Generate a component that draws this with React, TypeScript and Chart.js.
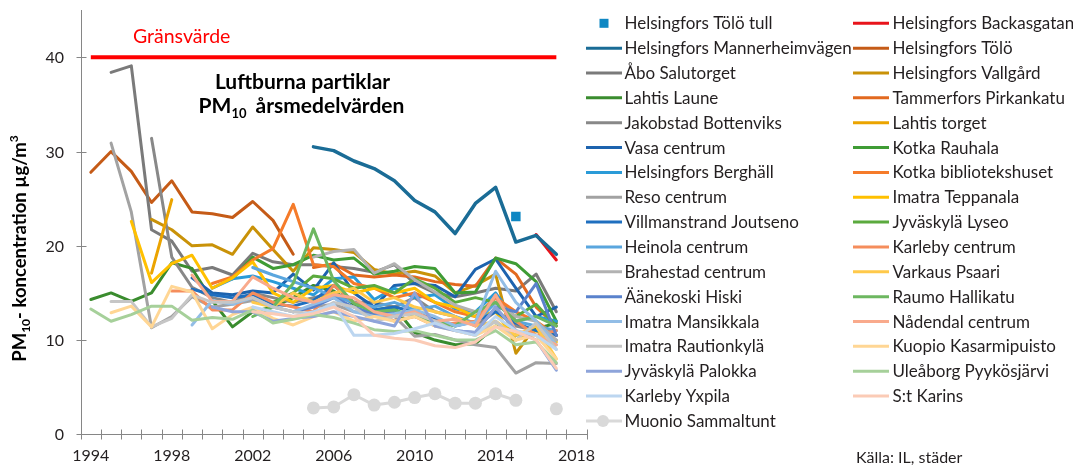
import React, { useEffect, useRef } from 'react';
import { Chart, registerables } from 'chart.js';

Chart.register(...registerables);

const _ = null;

const years = ['1994','1995','1996','1997','1998','1999','2000','2001','2002','2003','2004','2005','2006','2007','2008','2009','2010','2011','2012','2013','2014','2015','2016','2017','2018'];
const yTicks = [0, 10, 20, 30, 40];

const limit = [40,40,40,40,40,40,40,40,40,40,40,40,40,40,40,40,40,40,40,40,40,40,40,40,_];
const tolotull = [_,_,_,_,_,_,_,_,_,_,_,_,_,_,_,_,_,_,_,_,_,23.1,_,_,_];
const mannerheim = [_,_,_,_,_,_,_,_,_,_,_,30.5,30.1,29.0,28.2,26.9,24.8,23.6,21.3,24.5,26.2,20.4,21.1,19.1,_];
const abo = [_,38.4,39.1,21.7,20.5,17.3,17.7,16.9,19.2,18.3,18.0,18.0,17.8,17.6,17.2,18.0,16.0,15.0,14.6,15.0,15.5,15.2,17.0,13.0,_];
const lahtisLaune = [14.3,15.0,14.1,15.0,18.2,17.6,14.2,11.4,13.0,13.5,14.5,15.8,15.2,13.8,13.2,13.5,10.8,10.0,9.5,9.6,11.5,10.5,11.2,11.8,_];
const jakobstad = [_,_,_,31.4,18.8,15.6,14.5,14.0,15.0,14.5,14.0,14.5,15.0,14.0,14.0,13.5,14.5,13.0,12.5,11.5,13.0,11.5,11.0,10.0,_];
const vasa = [_,_,_,_,_,16.6,15.0,14.8,15.2,15.0,17.0,15.3,18.2,15.0,13.5,15.8,16.0,15.8,14.6,17.5,18.6,15.5,12.5,13.5,_];
const berghall = [_,_,_,_,_,_,15.5,16.5,16.8,16.2,15.5,14.8,16.5,16.7,14.3,15.5,14.5,14.8,13.3,13.0,15.0,12.0,12.5,12.0,_];
const reso = [_,30.9,23.6,11.3,12.5,14.6,13.5,13.8,14.2,13.5,13.0,13.5,13.8,13.0,12.8,12.5,10.4,10.6,10.0,9.5,9.2,6.5,7.6,7.5,_];
const villmanstrand = [_,_,_,_,_,15.4,14.8,14.5,14.8,13.8,13.6,14.2,15.8,14.0,13.2,13.5,13.0,12.2,11.5,12.0,13.0,11.8,11.0,10.5,_];
const heinola = [_,_,_,_,_,_,_,_,17.7,16.9,16.2,15.5,14.6,14.0,13.5,14.0,13.2,13.6,12.5,11.8,14.0,12.0,11.5,11.0,_];
const brahestad = [_,_,_,_,_,_,_,_,_,_,_,18.8,19.4,19.6,17.1,18.1,16.4,15.1,13.7,13.0,14.0,12.5,12.0,10.0,_];
const aanekoski = [_,_,_,_,_,_,_,_,_,_,13.0,13.5,14.5,13.5,12.8,13.0,12.6,12.0,11.0,10.8,13.5,13.0,16.0,10.5,_];
const imatraMans = [_,_,_,_,_,11.6,14.2,13.8,14.5,13.5,13.0,13.8,14.5,13.0,12.5,12.8,13.2,12.5,11.5,11.9,17.3,14.0,12.0,9.5,_];
const imatraRaut = [_,14.1,14.1,11.4,12.3,14.8,14.0,14.0,14.5,13.5,13.0,12.8,14.0,13.5,12.0,12.5,12.8,12.0,11.0,10.5,12.0,10.0,11.8,9.0,_];
const palokka = [_,_,_,_,_,_,13.5,13.0,13.0,12.0,12.3,12.5,13.0,12.5,12.0,11.5,15.0,11.5,11.0,10.8,13.5,11.0,10.0,6.8,_];
const yxpila = [_,_,_,_,_,_,_,_,13.5,13.0,12.5,13.0,13.8,10.5,10.5,10.7,11.2,11.8,11.0,10.5,12.5,11.0,10.5,9.0,_];
const muonio = [_,_,_,_,_,_,_,_,_,_,_,2.8,2.9,4.2,3.1,3.4,3.9,4.3,3.3,3.3,4.3,3.6,_,2.7,_];
const backas = [_,_,_,_,_,_,_,_,_,_,_,_,_,_,_,_,_,_,_,_,_,_,21.2,18.5,_];
const tolo = [27.8,30.0,27.9,24.6,26.9,23.6,23.4,23.0,24.7,22.7,19.1,_,_,_,_,_,_,_,_,_,_,_,_,_,_];
const vallgard = [_,_,_,22.8,21.7,20.0,20.1,19.1,22.0,19.6,17.3,19.8,19.6,19.3,17.5,17.0,17.3,16.8,15.0,15.8,17.0,8.6,11.5,10.5,_];
const tammerfors = [_,_,_,_,_,_,_,_,_,_,_,17.7,18.1,16.9,16.7,16.9,16.7,16.2,15.9,15.7,18.7,17.0,13.5,11.5,_];
const lahtisTorget = [_,_,_,17.1,24.9,_,_,_,_,_,_,_,_,_,_,_,_,_,_,_,_,_,_,_,_];
const kotkaRauhala = [_,_,_,_,_,_,_,16.5,18.8,17.6,18.0,19.0,18.5,18.7,17.0,17.3,17.8,17.6,15.0,15.1,18.7,18.1,16.2,12.0,_];
const kotkaBibl = [_,_,_,_,_,_,16.0,16.7,18.5,19.7,24.4,18.0,17.8,16.0,15.5,14.5,15.0,14.0,13.0,12.5,14.5,13.0,12.0,10.5,_];
const teppanala = [_,_,22.6,16.1,18.1,19.0,15.5,16.6,18.3,15.0,14.0,15.5,15.8,15.0,15.5,15.0,15.5,14.0,13.5,12.5,13.0,10.0,11.0,9.8,_];
const lyseo = [_,_,_,_,_,_,_,_,_,14.0,15.0,16.8,16.5,15.5,15.8,15.0,16.5,15.5,14.0,14.5,14.0,12.5,13.8,11.5,_];
const karlebyC = [_,_,_,_,15.2,15.2,13.2,13.2,15.0,14.0,13.5,13.0,15.8,14.0,13.0,12.0,12.5,11.5,11.8,12.0,14.5,12.0,10.5,11.0,_];
const varkaus = [_,_,_,_,_,_,_,_,14.0,13.5,15.0,14.0,15.0,15.5,14.0,14.5,13.5,13.0,12.5,11.5,12.0,10.5,11.5,8.0,_];
const raumo = [_,_,_,_,_,_,_,_,12.5,13.5,16.0,21.8,16.3,13.9,13.0,13.2,12.5,12.0,11.5,13.0,14.0,12.0,12.5,11.5,_];
const nadendal = [_,_,_,_,_,16.9,14.1,14.1,16.7,15.5,14.5,14.0,14.8,14.5,13.0,12.5,13.0,12.0,12.2,11.5,14.8,11.0,10.5,9.5,_];
const kuopio = [_,12.9,13.6,11.4,15.7,15.1,11.2,12.7,13.5,12.3,11.6,12.5,13.0,12.0,12.5,12.0,12.5,11.5,11.0,10.5,11.5,10.0,10.5,8.0,_];
const uleaborg = [13.3,12.0,12.7,13.6,13.6,12.1,12.4,12.2,13.2,11.8,12.2,12.7,12.4,11.8,11.1,10.9,11.0,10.5,10.0,10.0,11.0,9.5,9.8,7.6,_];
const stKarins = [_,_,_,_,_,_,_,_,13.0,12.8,12.5,12.8,13.5,12.5,10.5,10.2,10.0,9.4,9.2,9.8,11.4,10.9,10.0,7.0,_];

type Kind = 'line' | 'rect' | 'circle';
interface Series { name: string; color: string; data: (number | null)[]; kind: Kind; col: 0 | 1; width?: number; }

// listed in drawing order (later = on top), as in the source legend (row-wise)
const series: Series[] = [
  { name: 'Helsingfors Tölö tull', color: '#0F87C3', data: tolotull, kind: 'rect', col: 0 },
  { name: 'Helsingfors Backasgatan', color: '#E8141B', data: backas, kind: 'line', col: 1 },
  { name: 'Helsingfors Mannerheimvägen', color: '#1A6C96', data: mannerheim, kind: 'line', col: 0, width: 3.5 },
  { name: 'Helsingfors Tölö', color: '#C55B17', data: tolo, kind: 'line', col: 1 },
  { name: 'Åbo Salutorget', color: '#7A7A7A', data: abo, kind: 'line', col: 0 },
  { name: 'Helsingfors Vallgård', color: '#C99208', data: vallgard, kind: 'line', col: 1 },
  { name: 'Lahtis Laune', color: '#3A8C2E', data: lahtisLaune, kind: 'line', col: 0 },
  { name: 'Tammerfors Pirkankatu', color: '#E2691F', data: tammerfors, kind: 'line', col: 1 },
  { name: 'Jakobstad Bottenviks', color: '#888888', data: jakobstad, kind: 'line', col: 0 },
  { name: 'Lahtis torget', color: '#EBA400', data: lahtisTorget, kind: 'line', col: 1 },
  { name: 'Vasa centrum', color: '#1D63AE', data: vasa, kind: 'line', col: 0 },
  { name: 'Kotka Rauhala', color: '#3F9C35', data: kotkaRauhala, kind: 'line', col: 1 },
  { name: 'Helsingfors Berghäll', color: '#2A9BD8', data: berghall, kind: 'line', col: 0 },
  { name: 'Kotka bibliotekshuset', color: '#F57B2A', data: kotkaBibl, kind: 'line', col: 1 },
  { name: 'Reso centrum', color: '#A2A2A2', data: reso, kind: 'line', col: 0 },
  { name: 'Imatra Teppanala', color: '#FFC000', data: teppanala, kind: 'line', col: 1 },
  { name: 'Villmanstrand Joutseno', color: '#1F6FBF', data: villmanstrand, kind: 'line', col: 0 },
  { name: 'Jyväskylä Lyseo', color: '#5BAA3E', data: lyseo, kind: 'line', col: 1 },
  { name: 'Heinola centrum', color: '#5AA6DE', data: heinola, kind: 'line', col: 0 },
  { name: 'Karleby centrum', color: '#F58D5C', data: karlebyC, kind: 'line', col: 1 },
  { name: 'Brahestad centrum', color: '#B2B2B2', data: brahestad, kind: 'line', col: 0 },
  { name: 'Varkaus Psaari', color: '#FFC94A', data: varkaus, kind: 'line', col: 1 },
  { name: 'Äänekoski Hiski', color: '#5A82CC', data: aanekoski, kind: 'line', col: 0 },
  { name: 'Raumo Hallikatu', color: '#6DB760', data: raumo, kind: 'line', col: 1 },
  { name: 'Imatra Mansikkala', color: '#92BDE6', data: imatraMans, kind: 'line', col: 0 },
  { name: 'Nådendal centrum', color: '#F9AA8C', data: nadendal, kind: 'line', col: 1 },
  { name: 'Imatra Rautionkylä', color: '#C6C6C6', data: imatraRaut, kind: 'line', col: 0 },
  { name: 'Kuopio Kasarmipuisto', color: '#FFD694', data: kuopio, kind: 'line', col: 1 },
  { name: 'Jyväskylä Palokka', color: '#8EA4DA', data: palokka, kind: 'line', col: 0 },
  { name: 'Uleåborg Pyykösjärvi', color: '#A6D09A', data: uleaborg, kind: 'line', col: 1 },
  { name: 'Karleby Yxpila', color: '#BCD6F0', data: yxpila, kind: 'line', col: 0 },
  { name: 'S:t Karins', color: '#FBCBB6', data: stKarins, kind: 'line', col: 1 },
  { name: 'Muonio Sammaltunt', color: '#D9D9D9', data: muonio, kind: 'circle', col: 0 },
];

const FONT = 'Lato, "Open Sans", sans-serif';
const AXIS = '#868686';
const TEXT = '#231F20';

function drawPieces(ctx: CanvasRenderingContext2D, pieces: { t: string; size: number; dy: number; gap?: number }[], cx: number, baseY: number) {
  let total = 0;
  const widths = pieces.map(p => {
    ctx.font = `bold ${p.size}px ${FONT}`;
    const w = ctx.measureText(p.t).width + (p.gap || 0);
    total += w;
    return w;
  });
  let x = cx - total / 2;
  pieces.forEach((p, i) => {
    ctx.font = `bold ${p.size}px ${FONT}`;
    ctx.fillText(p.t, x, baseY + p.dy);
    x += widths[i];
  });
}

const overlay = {
  id: 'overlay',
  afterDraw(chart: any) {
    const ctx: CanvasRenderingContext2D = chart.ctx;
    const xs = chart.scales.x;
    const ys = chart.scales.y;
    ctx.save();
    // axes with crossing tick marks
    ctx.strokeStyle = AXIS;
    ctx.lineWidth = 1;
    const bottom = Math.round(ys.bottom) + 0.5;
    const left = Math.round(xs.left) + 0.5;
    ctx.beginPath();
    ctx.moveTo(left, Math.round(ys.top));
    ctx.lineTo(left, bottom);
    ctx.lineTo(Math.round(xs.right), bottom);
    ctx.stroke();
    const n = years.length;
    const step = (xs.right - xs.left) / n;
    for (let i = 0; i <= n; i++) {
      const x = Math.round(xs.left + i * step) + 0.5;
      ctx.beginPath();
      ctx.moveTo(x, bottom - 5);
      ctx.lineTo(x, bottom + 5);
      ctx.stroke();
    }
    ctx.fillStyle = TEXT;
    ctx.font = `16px ${FONT}`;
    ctx.textAlign = 'right';
    ctx.textBaseline = 'middle';
    for (const v of yTicks) {
      const y = Math.round(ys.getPixelForValue(v)) + 0.5;
      ctx.beginPath();
      ctx.moveTo(left - 5, y);
      ctx.lineTo(left + 5, y);
      ctx.stroke();
      ctx.fillText(String(v), 64, y + 0.5);
    }

    // texts
    ctx.textBaseline = 'alphabetic';
    ctx.textAlign = 'left';
    ctx.fillStyle = '#FF0000';
    ctx.font = `19.5px ${FONT}`;
    ctx.fillText('Gränsvärde', 133, 43.3);

    ctx.fillStyle = '#000000';
    ctx.font = `bold 21px ${FONT}`;
    ctx.textAlign = 'center';
    ctx.fillText('Luftburna partiklar', 302.5, 89.3);
    ctx.textAlign = 'left';
    drawPieces(ctx, [
      { t: 'PM', size: 21, dy: 0 },
      { t: '10', size: 13, dy: 5, gap: 9 },
      { t: 'årsmedelvärden', size: 21, dy: 0 },
    ], 301.5, 113.3);

    // y axis title
    ctx.save();
    ctx.translate(25.5, 248.5);
    ctx.rotate(-Math.PI / 2);
    drawPieces(ctx, [
      { t: 'PM', size: 18.5, dy: 0 },
      { t: '10', size: 12, dy: 4 },
      { t: '- koncentration µg/m', size: 18.5, dy: 0 },
      { t: '3', size: 12, dy: -8 },
    ], 0, 0);
    ctx.restore();

    // legend
    const rows = [0, 0];
    const colX = [{ x0: 586, x1: 622, tx: 624.5 }, { x0: 853, x1: 889, tx: 892.5 }];
    ctx.font = `17px ${FONT}`;
    for (const s of series) {
      const c = colX[s.col];
      const y = 23.3 + 24.85 * rows[s.col]++;
      ctx.fillStyle = s.color;
      ctx.strokeStyle = s.color;
      if (s.kind === 'rect') {
        ctx.fillRect(599.5, y - 4.5, 9, 9);
      } else {
        ctx.lineWidth = 3;
        ctx.beginPath();
        ctx.moveTo(c.x0, y);
        ctx.lineTo(c.x1, y);
        ctx.stroke();
        if (s.kind === 'circle') {
          ctx.beginPath();
          ctx.arc(603, y, 6, 0, Math.PI * 2);
          ctx.fill();
        }
      }
      ctx.fillStyle = TEXT;
      ctx.fillText(s.name, c.tx, y + 6);
    }

    ctx.font = `16px ${FONT}`;
    ctx.fillStyle = TEXT;
    ctx.fillText('Källa: IL, städer', 856, 463);
    ctx.restore();
  },
};

export default function App() {
  const ref = useRef<HTMLCanvasElement>(null);
  useEffect(() => {
    document.body.style.margin = '0';
    const drawn = [...series].reverse();
    const datasets: any[] = drawn.map(s => ({
      label: s.name,
      data: s.data,
      borderColor: s.color,
      backgroundColor: s.color,
      borderWidth: s.kind === 'rect' ? 0 : (s.width || 3),
      showLine: s.kind !== 'rect',
      pointRadius: s.kind === 'rect' ? 6.7 : s.kind === 'circle' ? 6.5 : 0,
      pointStyle: s.kind === 'rect' ? 'rect' : 'circle',
      pointBorderWidth: 0,
      pointHoverRadius: 0,
      borderJoinStyle: 'round',
      borderCapStyle: 'round',
      tension: 0,
      spanGaps: false,
    }));
    datasets.push({
      label: 'Gränsvärde',
      data: limit,
      borderColor: '#FF0000',
      backgroundColor: '#FF0000',
      borderWidth: 4,
      pointRadius: 0,
      tension: 0,
    });
    const chart = new Chart(ref.current!, {
      type: 'line',
      data: { labels: years, datasets },
      options: {
        responsive: false,
        animation: false,
        devicePixelRatio: 1,
        layout: { padding: { left: 0, top: 10.2, right: 486.3, bottom: 0 } },
        plugins: { legend: { display: false }, tooltip: { enabled: false }, title: { display: false } },
        events: [],
        scales: {
          x: {
            type: 'category',
            offset: true,
            grid: { display: false, drawTicks: true, tickLength: 5, offset: true },
            border: { display: false },
            ticks: {
              autoSkip: false,
              maxRotation: 0,
              padding: 7,
              color: TEXT,
              font: { family: FONT, size: 16 },
              callback: (_v: any, i: number) => ((Number(years[i]) - 1994) % 4 === 0 ? years[i] : ''),
            },
            afterFit: (s: any) => { s.height = 30.7; },
          },
          y: {
            min: 0,
            max: 45,
            grid: { display: false, drawTicks: false },
            border: { display: false },
            ticks: { display: false, stepSize: 10 },
            afterFit: (s: any) => { s.width = 80.7; },
          },
        },
      },
      plugins: [overlay],
    });
    return () => chart.destroy();
  }, []);
  return (
    <div style={{ width: 1073, height: 465, position: 'relative', background: '#fff' }}>
      <canvas ref={ref} width={1073} height={465} style={{ display: 'block' }} />
    </div>
  );
}
